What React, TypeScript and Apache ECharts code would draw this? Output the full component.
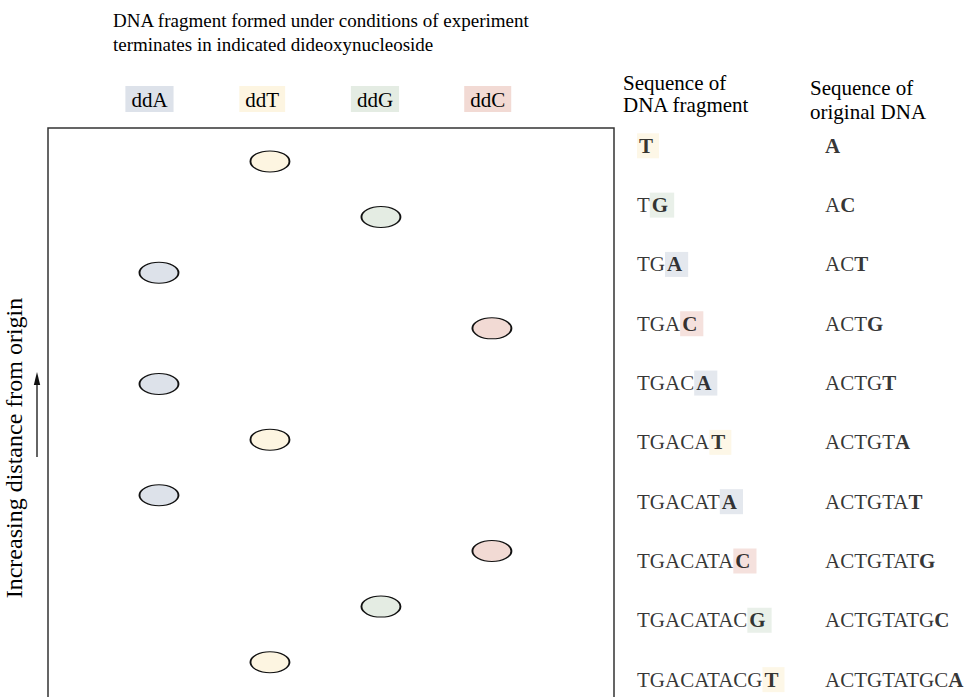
import React, { useEffect, useRef } from "react";
import * as echarts from "echarts";

const TITLE_LINES = [
  "DNA fragment formed under conditions of experiment",
  "terminates in indicated dideoxynucleoside",
];
const lanes = ["ddA", "ddT", "ddG", "ddC"];
const laneBases = ["A", "T", "G", "C"];
const laneColors = ["#dde2ea", "#fdf5e1", "#e4ece3", "#f2dad4"];
const bandRows = [1, 2, 3, 4, 5, 6, 7, 8, 9, 10];
const bandLanes = ["ddT", "ddG", "ddA", "ddC", "ddA", "ddT", "ddA", "ddC", "ddG", "ddT"];
const fragments = [
  "T", "TG", "TGA", "TGAC", "TGACA", "TGACAT", "TGACATA", "TGACATAC", "TGACATACG", "TGACATACGT",
];
const originals = [
  "A", "AC", "ACT", "ACTG", "ACTGT", "ACTGTA", "ACTGTAT", "ACTGTATG", "ACTGTATGC", "ACTGTATGCA",
];
const yAxisName = "Increasing distance from origin";
const columnHeads = ["Sequence of\nDNA fragment", "Sequence of\noriginal DNA"];

const FONT = '"Liberation Serif", "Times New Roman", serif';
const TXT = "#000";
const ELLIPSE = "path://M0 10A10 10 0 1 1 20 10A10 10 0 1 1 0 10Z";

export default function App() {
  const ref = useRef<HTMLDivElement>(null);
  useEffect(() => {
    if (!ref.current) return;
    const chart = echarts.init(ref.current, undefined, { renderer: "svg" });

    const headRich: any = {};
    laneBases.forEach((b, i) => {
      headRich[b] = {
        backgroundColor: laneColors[i],
        padding: [3, 6, 2, 6],
        fontSize: 21,
        fontFamily: FONT,
        color: TXT,
        lineHeight: 20,
      };
    });
    const fragRich: any = {
      n: { fontSize: 21, fontFamily: FONT, color: TXT, lineHeight: 22 },
    };
    laneBases.forEach((b, i) => {
      fragRich[b] = {
        fontSize: 21,
        fontFamily: FONT,
        fontWeight: "bold",
        color: TXT,
        backgroundColor: laneColors[i],
        padding: [2, 6, 2, 2],
        lineHeight: 22,
      };
    });
    const origRich: any = {
      n: { fontSize: 21, fontFamily: FONT, color: TXT, lineHeight: 22 },
      b: { fontSize: 21, fontFamily: FONT, fontWeight: "bold", color: TXT, lineHeight: 22 },
    };

    const bandData = bandRows.map((r, i) => {
      const li = lanes.indexOf(bandLanes[i]);
      return { value: [li, r], itemStyle: { color: laneColors[li] } };
    });

    const option: any = {
      animation: false,
      backgroundColor: "#ffffff",
      title: {
        text: TITLE_LINES.join("\n"),
        left: 113,
        top: 8,
        padding: 0,
        textStyle: {
          fontFamily: FONT,
          fontSize: 19,
          fontWeight: "normal",
          color: TXT,
          lineHeight: 24,
        },
      },
      grid: [
        {
          left: 48,
          right: 355,
          top: 128,
          bottom: 0,
          containLabel: false,
          outerBoundsMode: "none",
          show: true,
          borderColor: "#333",
          borderWidth: 1.5,
          backgroundColor: "transparent",
        },
        { left: 637, right: 144, top: 128, bottom: 0, containLabel: false, outerBoundsMode: "none" },
      ],
      xAxis: [
        { gridIndex: 0, type: "value", min: -1, max: 4.1, show: false },
        {
          gridIndex: 0,
          type: "value",
          position: "top",
          min: -0.9,
          max: 4.12,
          axisLine: { show: false },
          axisTick: { show: false },
          splitLine: { show: false },
          axisLabel: {
            customValues: [0, 1, 2, 3],
            margin: 19,
            formatter: (v: number) => {
              const i = Math.round(v);
              if (i < 0 || i > 3) return "";
              return `{${laneBases[i]}|${lanes[i]}}`;
            },
            rich: headRich,
          },
        },
        { gridIndex: 1, type: "value", min: 0, max: 1, show: false },
      ],
      yAxis: [
        {
          gridIndex: 0,
          type: "value",
          inverse: true,
          min: 0.4,
          max: 11.9,
          axisLine: { show: false },
          axisTick: { show: false },
          axisLabel: { show: false },
          splitLine: { show: false },
          name: yAxisName,
          nameLocation: "middle",
          nameRotate: 90,
          nameGap: 22,
          nameTextStyle: { fontFamily: FONT, fontSize: 24, lineHeight: 24, color: TXT },
        },
        { gridIndex: 1, type: "value", inverse: true, min: 0.7, max: 11.49, show: false },
      ],
      series: [
        {
          type: "scatter",
          xAxisIndex: 0,
          yAxisIndex: 0,
          silent: true,
          symbol: ELLIPSE,
          symbolSize: [39, 21],
          itemStyle: { borderColor: "#111", borderWidth: 1.4, opacity: 1 },
          data: bandData,
        },
        {
          type: "scatter",
          xAxisIndex: 2,
          yAxisIndex: 1,
          silent: true,
          symbolSize: 0,
          itemStyle: { color: "transparent" },
          label: {
            show: true,
            position: "right",
            distance: 0,
            formatter: (p: any) => {
              const s = fragments[p.dataIndex];
              const last = s.slice(-1);
              const pre = s.slice(0, -1);
              return (pre ? `{n|${pre}}` : "") + `{${last}|${last}}`;
            },
            rich: fragRich,
          },
          data: bandRows.map((r) => [0, r]),
        },
        {
          type: "scatter",
          xAxisIndex: 2,
          yAxisIndex: 1,
          silent: true,
          symbolSize: 0,
          itemStyle: { color: "transparent" },
          label: {
            show: true,
            position: "right",
            distance: 0,
            formatter: (p: any) => {
              const s = originals[p.dataIndex];
              const last = s.slice(-1);
              const pre = s.slice(0, -1);
              return (pre ? `{n|${pre}}` : "") + `{b|${last}}`;
            },
            rich: origRich,
          },
          data: bandRows.map((r) => [1, r]),
        },
      ],
      graphic: [
        {
          type: "line",
          shape: { x1: 37, y1: 457, x2: 37, y2: 382 },
          style: { stroke: "#111", lineWidth: 1.3 },
          silent: true,
        },
        {
          type: "polygon",
          shape: { points: [[37, 372], [33.8, 385], [40.2, 385]] },
          style: { fill: "#111" },
          silent: true,
        },
        {
          type: "text",
          x: 623,
          y: 72,
          style: { text: columnHeads[0], fontFamily: FONT, fontSize: 21, fill: TXT, lineHeight: 22 },
          silent: true,
        },
        {
          type: "text",
          x: 810,
          y: 76,
          style: { text: columnHeads[1], fontFamily: FONT, fontSize: 21, fill: TXT, lineHeight: 24 },
          silent: true,
        },
      ],
    };
    chart.setOption(option);
    return () => chart.dispose();
  }, []);
  return (
    <div
      ref={ref}
      style={{ position: "absolute", left: 0, top: 0, width: 969, height: 768, background: "#fff" }}
    />
  );
}
